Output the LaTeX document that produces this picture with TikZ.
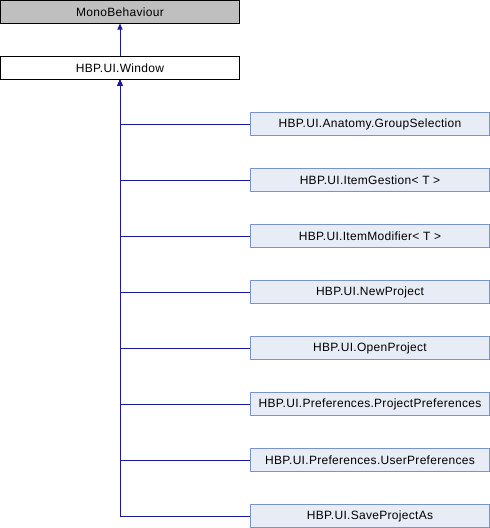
\documentclass[tikz,border=0pt]{standalone}
\usepackage{fontspec}
\setmainfont{Liberation Sans}[LetterSpace=2.5]
\usetikzlibrary{arrows.meta}
\definecolor{edgeblue}{HTML}{1A1A9C}
\definecolor{childborder}{HTML}{7A93C8}
\definecolor{childfill}{HTML}{E8ECF6}
\definecolor{basefill}{HTML}{BFBFBF}
\begin{document}
\begin{tikzpicture}[x=1pt,y=-1pt,
  box/.style={draw, line width=1pt, minimum width=239pt, minimum height=22.5pt, inner sep=0pt, font=\fontsize{12}{14}\selectfont, anchor=center},
  basebox/.style={box, fill=basefill, draw=black},
  winbox/.style={box, fill=white, draw=black},
  childbox/.style={box, fill=childfill, draw=childborder},
  inherit/.style={draw=edgeblue, line width=1pt, -{Triangle[length=6pt,width=5pt]}}]
\useasboundingbox (0,0) rectangle (490,528);
\node[basebox] (mono) at (120,11.8) {MonoBehaviour};
\node[winbox] (win) at (120,68) {HBP.UI.Window};
\node[childbox] (c1) at (370,124) {HBP.UI.Anatomy.GroupSelection};
\node[childbox] (c2) at (370,180) {HBP.UI.ItemGestion< T >};
\node[childbox] (c3) at (370,236) {HBP.UI.ItemModifier< T >};
\node[childbox] (c4) at (370,292) {HBP.UI.NewProject};
\node[childbox] (c5) at (370,348) {HBP.UI.OpenProject};
\node[childbox] (c6) at (370,404) {HBP.UI.Preferences.ProjectPreferences};
\node[childbox] (c7) at (370,460) {HBP.UI.Preferences.UserPreferences};
\node[childbox] (c8) at (370,516) {HBP.UI.SaveProjectAs};
\draw[inherit] (win.north) -- (mono.south);
\foreach \c in {c1,c2,c3,c4,c5,c6,c7,c8}{
  \draw[inherit] (\c.west) -| (win.south);
}
\end{tikzpicture}
\end{document}
